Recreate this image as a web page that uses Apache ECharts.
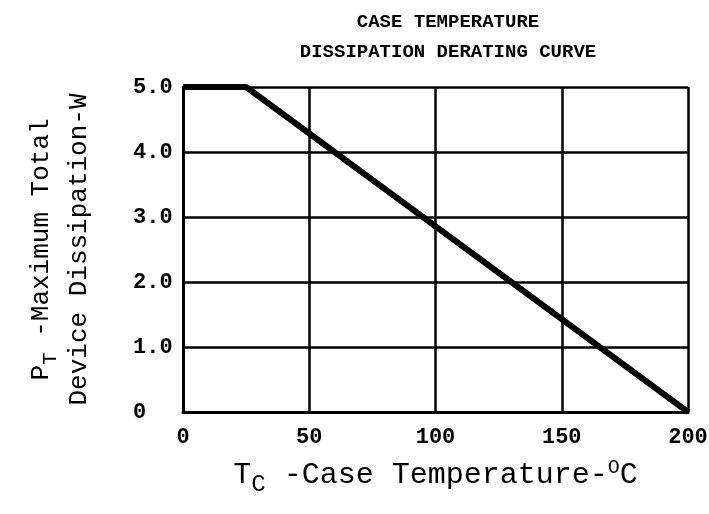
<!DOCTYPE html>
<html>
<head>
<meta charset="utf-8">
<script src="https://cdn.jsdelivr.net/npm/echarts@6/dist/echarts.min.js"></script>
<style>
  html, body { margin: 0; padding: 0; background: #fff; }
  #chart { width: 709px; height: 514px; }
</style>
</head>
<body>
<div id="chart"></div>
<script>
// derating curve: flat at 5 W up to 25 C, then linear down to 0 at 200 C
const caseTemp = [0, 25, 200];
const maxPower = [5.0, 5.0, 0];
const yTickLabels = ['0', '1.0', '2.0', '3.0', '4.0', '5.0'];
const titleLines = ['CASE TEMPERATURE', 'DISSIPATION DERATING CURVE'];

const FONT = '"Liberation Mono", "DejaVu Sans Mono", monospace';
const chart = echarts.init(document.getElementById('chart'));

const option = {
  animation: false,
  backgroundColor: '#fff',
  title: {
    text: titleLines.join('\n'),
    left: 443,
    top: 2,
    textAlign: 'center',
    textStyle: {
      fontFamily: FONT,
      fontSize: 19,
      fontWeight: 'bold',
      color: '#000',
      lineHeight: 30
    }
  },
  grid: {
    left: 183,
    right: 21,
    top: 87,
    bottom: 102,
    outerBoundsMode: 'none'
  },
  xAxis: {
    type: 'value',
    min: 0,
    max: 200,
    interval: 50,
    name: '{m|T}{sub|C}{m| -Case Temperature-}{sup|O}{m|C}',
    nameLocation: 'middle',
    nameGap: 46,
    nameTextStyle: {
      rich: {
        m: { fontFamily: FONT, fontSize: 30, color: '#000', lineHeight: 34 },
        sub: { fontFamily: FONT, fontSize: 24, color: '#000', padding: [20, 0, 0, 0], lineHeight: 34 },
        sup: { fontFamily: FONT, fontSize: 20, color: '#000', padding: [0, 0, 14, 0], lineHeight: 34 }
      }
    },
    axisLine: { show: true, lineStyle: { color: '#000', width: 3 } },
    axisTick: { show: false },
    axisLabel: {
      margin: 14,
      fontFamily: FONT,
      fontSize: 22,
      fontWeight: 'bold',
      color: '#000'
    },
    splitLine: { show: true, lineStyle: { color: '#000', width: 2.5 } }
  },
  yAxis: {
    type: 'value',
    min: 0,
    max: 5,
    interval: 1,
    name: '{m|P}{sub|T}{m| -Maximum Total}\n{m|Device Dissipation-W}',
    nameLocation: 'middle',
    nameRotate: 90,
    nameGap: 85,
    nameTextStyle: {
      rich: {
        m: { fontFamily: FONT, fontSize: 26, color: '#000', lineHeight: 38 },
        sub: { fontFamily: FONT, fontSize: 21, color: '#000', padding: [18, 0, 0, 0], lineHeight: 38 }
      }
    },
    axisLine: { show: true, lineStyle: { color: '#000', width: 3 } },
    axisTick: { show: false },
    axisLabel: {
      align: 'left',
      margin: 50,
      fontFamily: FONT,
      fontSize: 22,
      fontWeight: 'bold',
      color: '#000',
      formatter: v => yTickLabels[Math.round(v)]
    },
    splitLine: { show: true, lineStyle: { color: '#000', width: 2.5 } }
  },
  series: [
    {
      type: 'line',
      data: caseTemp.map((t, i) => [t, maxPower[i]]),
      symbol: 'none',
      lineStyle: { color: '#000', width: 6 }
    }
  ]
};

chart.setOption(option);
</script>
</body>
</html>
